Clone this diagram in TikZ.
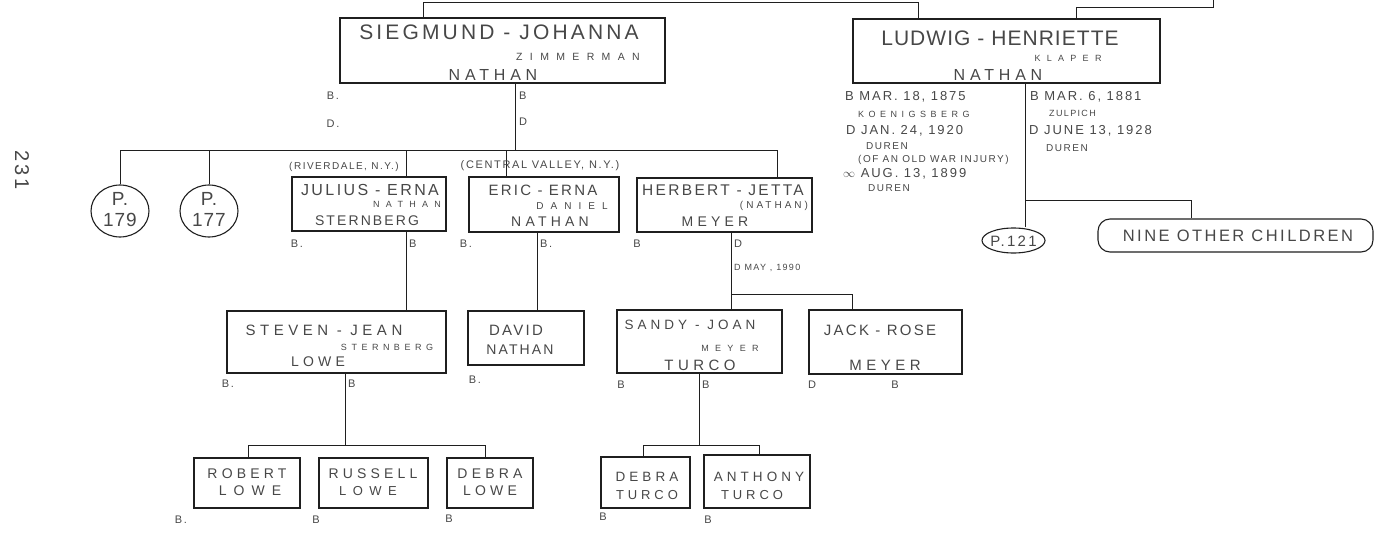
\documentclass[tikz,border=0pt]{standalone}
\usepackage{fontspec}
\setmainfont{Liberation Sans}[LetterSpace=15]
\newfontfamily\hwA{Liberation Sans}[LetterSpace=5]
\newfontfamily\hwB{Liberation Sans}[LetterSpace=15]
\newfontfamily\hwC{Liberation Sans}[LetterSpace=30]
\newfontfamily\hwD{Liberation Sans}[LetterSpace=50]
\newfontfamily\hwE{Liberation Sans}[LetterSpace=70]
\usetikzlibrary{shapes.geometric}
\definecolor{ink}{gray}{0.12}
\definecolor{txt}{gray}{0.28}
\begin{document}
\begin{tikzpicture}[x=1pt,y=-1pt,
  box/.style={draw=ink, line width=1.1pt, inner sep=0pt},
  ell/.style={ellipse, draw=ink, line width=1.1pt, inner sep=0pt},
  link/.style={draw=ink, line width=1pt},
  ft/.style 2 args={text=txt, inner sep=0pt, font=#1\fontsize{#2}{#2}\selectfont},
  lab/.style={ft={\hwB}{11}},
]
\useasboundingbox (0,0) rectangle (1393,543);

% ---------- boxes ----------
\node[box, minimum width=325pt, minimum height=65pt] (sieg) at (502.5,50.5) {};
\node[box, minimum width=307pt, minimum height=64pt] (lud) at (1006.5,51) {};
\node[ell, minimum width=58pt, minimum height=52pt] (p179) at (120,211) {};
\node[ell, minimum width=58pt, minimum height=52pt] (p177) at (209,211) {};
\node[box, minimum width=154pt, minimum height=54pt] (jul) at (369,204) {};
\node[box, minimum width=150pt, minimum height=55pt] (eric) at (544,204.5) {};
\node[box, minimum width=175pt, minimum height=54pt] (herb) at (724.5,205) {};
\node[box, minimum width=219pt, minimum height=62pt] (stev) at (336.5,342) {};
\node[box, minimum width=116pt, minimum height=54pt] (dav) at (526,338) {};
\node[box, minimum width=165pt, minimum height=63pt] (sand) at (699.5,341.5) {};
\node[box, minimum width=153pt, minimum height=64pt] (jack) at (885.5,342) {};
\node[box, minimum width=106pt, minimum height=50pt] (rob) at (247,483) {};
\node[box, minimum width=109pt, minimum height=50pt] (rus) at (373.5,483) {};
\node[box, minimum width=86pt, minimum height=50pt] (deb) at (490,483) {};
\node[box, minimum width=89pt, minimum height=51pt] (debt) at (645.5,482.5) {};
\node[box, minimum width=106pt, minimum height=53pt] (anth) at (757,481.5) {};
\node[ell, minimum width=63pt, minimum height=25pt] (p121) at (1013.5,240.5) {};
\node[box, rounded corners=12pt, minimum width=275pt, minimum height=33pt] (nine) at (1235.5,235.5) {};

% ---------- connectors ----------
\coordinate (t1) at (423,3);
\coordinate (t2) at (918,3);
\draw[link] (t1 |- sieg.north) -- (t1) -- (t2) -- (t2 |- lud.north);
\draw[link] (1076,20) -- (1076,8) -- (1213,8) -- (1213,0);

\coordinate (s1) at (515,150);
\coordinate (bL) at (120,150);
\coordinate (bR) at (777,150);
\coordinate (c2) at (209,150);
\coordinate (c3) at (406,150);
\coordinate (c4) at (506,150);
\draw[link] (s1 |- sieg.south) -- (s1);
\draw[link] (bL) -- (bR);
\draw[link] (bL) -- (p179.north);
\draw[link] (c2) -- (p177.north);
\draw[link] (c3) -- (c3 |- jul.north);
\draw[link] (c4) -- (c4 |- eric.north);
\draw[link] (bR) -- (bR |- herb.north);

\draw[link] (c3 |- jul.south) -- (c3 |- stev.north);
\coordinate (e1) at (537,300);
\draw[link] (e1 |- eric.south) -- (e1 |- dav.north);

\coordinate (h1) at (731,294);
\coordinate (h2) at (852,294);
\draw[link] (h1 |- herb.south) -- (h1) -- (h2) -- (h2 |- jack.north);
\draw[link] (h1) -- (h1 |- sand.north);

\coordinate (st) at (345,445);
\coordinate (r1) at (248,445);
\coordinate (r2) at (485,445);
\draw[link] (st |- stev.south) -- (st);
\draw[link] (r1 |- rob.north) -- (r1) -- (r2) -- (r2 |- deb.north);

\coordinate (sa) at (699,445);
\coordinate (a1) at (643,445);
\coordinate (a2) at (759,445);
\draw[link] (sa |- sand.south) -- (sa);
\draw[link] (a1 |- debt.north) -- (a1) -- (a2) -- (a2 |- anth.north);

\coordinate (l1) at (1025,200);
\coordinate (l2) at (1191,200);
\draw[link] (l1 |- lud.south) -- (l1 |- p121.north);
\draw[link] (l1) -- (l2) -- (l2 |- nine.north);

% ---------- page number ----------
\node[ft={\hwB}{20}, rotate=-90] (page) at (22,170) {231};

% ---------- circles / ovals ----------
\node[ft={\hwA}{19}] (p179a) at (120,199) {P.};
\node[ft={\hwA}{19}] (p179b) at (120,220) {179};
\node[ft={\hwA}{19}] (p177a) at (209,199) {P.};
\node[ft={\hwA}{19}] (p177b) at (209,220) {177};
\node[ft={\hwB}{15}] (p121t) at (1013.5,241) {P.121};
\node[ft={\hwB}{16.5}] (ninet) at (1238,236) {NINE OTHER CHILDREN};

% ---------- Siegmund ----------
\node[ft={\hwB}{21}] (sg1) at (499,32) {SIEGMUND - JOHANNA};
\node[ft={\hwE}{10.5}] (sg2) at (578,57) {ZIMMERMAN};
\node[ft={\hwC}{16}] (sg3) at (493,75) {NATHAN};
\node[lab] (sgb) at (333,96) {B.};
\node[lab] (sgd) at (333,124) {D.};
\node[lab, anchor=west] (sgb2) at (519,96) {B};
\node[lab, anchor=west] (sgd2) at (519,122) {D};

% ---------- Ludwig ----------
\node[ft={\hwA}{21}] (ld1) at (1000,38) {LUDWIG - HENRIETTE};
\node[ft={\hwE}{9}] (ld2) at (1068,58) {KLAPER};
\node[ft={\hwC}{16}] (ld3) at (998,75) {NATHAN};
\node[ft={\hwB}{13}, anchor=west] (lv1) at (845,97) {B MAR. 18, 1875};
\node[ft={\hwD}{9}, anchor=west] (lv2) at (858,114) {KOENIGSBERG};
\node[ft={\hwB}{13}, anchor=west] (lv3) at (846,131) {D JAN. 24, 1920};
\node[ft={\hwB}{10}, anchor=west] (lv4) at (866,146) {DUREN};
\node[ft={\hwB}{10}, anchor=west] (lv5) at (858,160) {(OF AN OLD WAR INJURY)};
\node[ft={\hwB}{13}, anchor=west] (lv6) at (843,174) {$\infty$ AUG. 13, 1899};
\node[ft={\hwB}{10}, anchor=west] (lv7) at (868,188) {DUREN};
\node[ft={\hwB}{13}, anchor=west] (hv1) at (1030,97) {B MAR. 6, 1881};
\node[ft={\hwB}{9}, anchor=west] (hv2) at (1049,113) {ZULPICH};
\node[ft={\hwB}{13}, anchor=west] (hv3) at (1029,131) {D JUNE 13, 1928};
\node[ft={\hwB}{10}, anchor=west] (hv4) at (1046,148) {DUREN};

% ---------- Julius ----------
\node[ft={\hwB}{10}] (jp) at (344,167) {(RIVERDALE, N.Y.)};
\node[ft={\hwB}{16}] (j1) at (370,190) {JULIUS - ERNA};
\node[ft={\hwE}{9}] (j2) at (407,204) {NATHAN};
\node[ft={\hwB}{14}] (j3) at (367,221) {STERNBERG};
\node[lab] (jb) at (297,244) {B.};
\node[lab, anchor=west] (jb2) at (409,244) {B};

% ---------- Eric ----------
\node[ft={\hwB}{11}] (ep) at (540,166) {(CENTRAL VALLEY, N.Y.)};
\node[ft={\hwB}{15}] (er1) at (543,190) {ERIC - ERNA};
\node[ft={\hwE}{10}] (er2) at (572,206) {DANIEL};
\node[ft={\hwC}{14}] (er3) at (550,222) {NATHAN};
\node[lab] (erb) at (466,244) {B.};
\node[lab, anchor=west] (erb2) at (540,244) {B.};

% ---------- Herbert ----------
\node[ft={\hwB}{15.5}] (hb1) at (723,190) {HERBERT - JETTA};
\node[ft={\hwC}{10}] (hb2) at (774,206) {(NATHAN)};
\node[ft={\hwC}{14}] (hb3) at (715,222) {MEYER};
\node[lab] (hbb) at (637,244) {B};
\node[lab, anchor=west] (hbd) at (734,244) {D};
\node[ft={\hwB}{9}, anchor=west] (hbd2) at (734,268) {D MAY , 1990};

% ---------- Steven ----------
\node[ft={\hwC}{15}] (sv1) at (324,330) {STEVEN - JEAN};
\node[ft={\hwD}{9}] (sv2) at (387,347) {STERNBERG};
\node[ft={\hwC}{14}] (sv3) at (318,362) {LOWE};
\node[lab] (svb) at (228,384) {B.};
\node[lab, anchor=west] (svb2) at (348,384) {B};

% ---------- David ----------
\node[ft={\hwB}{15}] (dv1) at (516,330) {DAVID};
\node[ft={\hwB}{14}] (dv2) at (520,350) {NATHAN};
\node[lab] (dvb) at (475,380) {B.};

% ---------- Sandy ----------
\node[ft={\hwC}{13.5}] (sd1) at (690,325) {SANDY - JOAN};
\node[ft={\hwE}{9}] (sd2) at (730,348) {MEYER};
\node[ft={\hwC}{15}] (sd3) at (700,365) {TURCO};
\node[lab] (sdb) at (621,385) {B};
\node[lab, anchor=west] (sdb2) at (702,385) {B};

% ---------- Jack ----------
\node[ft={\hwB}{15}] (jk1) at (880,330) {JACK - ROSE};
\node[ft={\hwC}{15}] (jk2) at (885,365) {MEYER};
\node[lab] (jkd) at (812,385) {D};
\node[lab] (jkb) at (895,385) {B};

% ---------- grandchildren ----------
\node[ft={\hwC}{14}] (rb1) at (247,474) {ROBERT};
\node[ft={\hwD}{14}] (rb2) at (250,491) {LOWE};
\node[ft={\hwC}{14}] (rs1) at (373,474) {RUSSELL};
\node[ft={\hwD}{13}] (rs2) at (368,491) {LOWE};
\node[ft={\hwC}{14}] (db1) at (490,474) {DEBRA};
\node[ft={\hwC}{14}] (db2) at (490,491) {LOWE};
\node[lab] (rbb) at (181,520) {B.};
\node[lab] (rsb) at (316,520) {B};
\node[lab] (dbb) at (449,519) {B};

\node[ft={\hwC}{13.5}] (dt1) at (647,477) {DEBRA};
\node[ft={\hwC}{13}] (dt2) at (647,495) {TURCO};
\node[ft={\hwC}{13.5}] (an1) at (759,477) {ANTHONY};
\node[ft={\hwC}{13}] (an2) at (752,495) {TURCO};
\node[lab] (dtb) at (603,517) {B};
\node[lab] (anb) at (708,520) {B};
\end{tikzpicture}
\end{document}
